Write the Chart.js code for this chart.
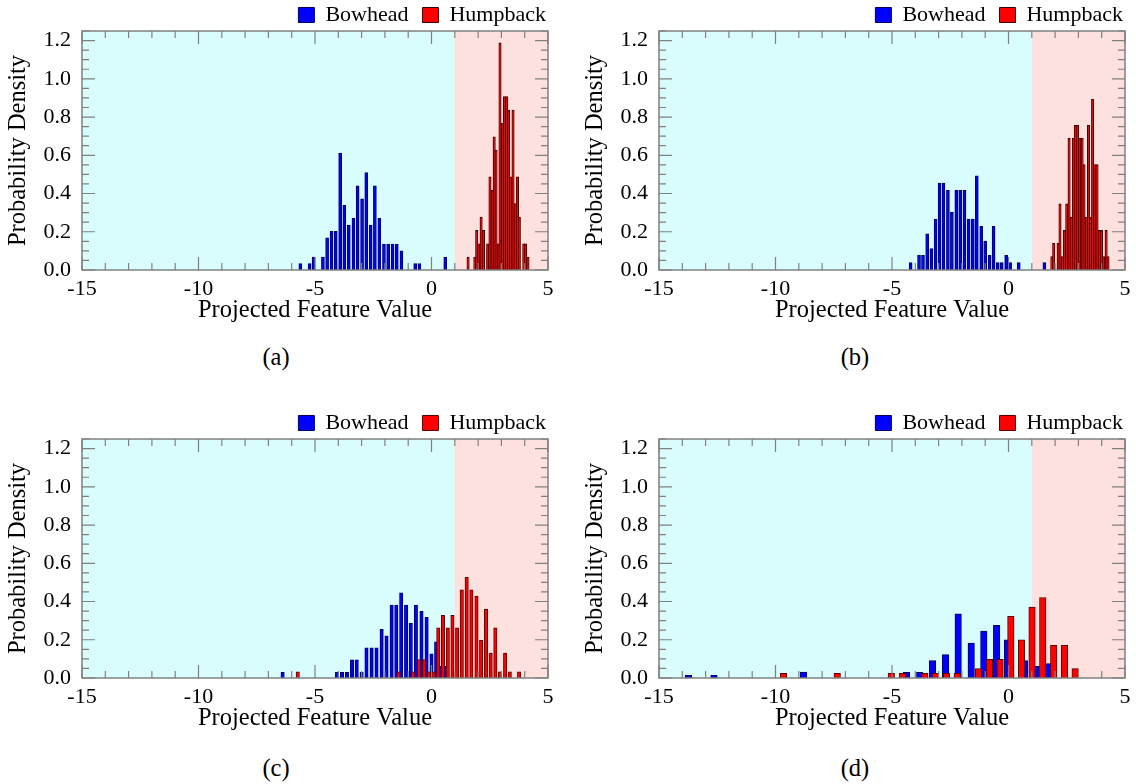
<!DOCTYPE html>
<html>
<head>
<meta charset="utf-8">
<title>Projected feature histograms</title>
<script src="https://cdn.jsdelivr.net/npm/chart.js@4.4.1/dist/chart.umd.min.js"></script>
<style>
  html, body { margin: 0; padding: 0; background: #fff; }
  body { position: relative; width: 1136px; height: 784px; overflow: hidden; font-family: 'Liberation Serif', 'DejaVu Serif', serif; }
  canvas { position: absolute; }
  .caption { position: absolute; width: 120px; text-align: center; font-size: 24.5px; line-height: 28px; color: #000; }
</style>
</head>
<body>
<canvas id="panel-a" width="560" height="341" style="left:0;top:-15px"></canvas>
<canvas id="panel-b" width="560" height="341" style="left:577px;top:-15px"></canvas>
<canvas id="panel-c" width="560" height="341" style="left:0;top:393px"></canvas>
<canvas id="panel-d" width="560" height="341" style="left:577px;top:393px"></canvas>
<div class="caption" style="left:216px;top:343px">(a)</div>
<div class="caption" style="left:795px;top:343px">(b)</div>
<div class="caption" style="left:216px;top:754px">(c)</div>
<div class="caption" style="left:795px;top:754px">(d)</div>

<script>
const xMin = -15
const xMax = 5
const yMax = 1.25
const boundary = 1 // where the cyan region ends and the pink one starts

// (a)
const aBowheadX = [-5.63, -5.23, -5.06, -4.66, -4.48, -4.29, -4.11, -3.92, -3.74, -3.55, -3.35, -3.17, -2.98, -2.80, -2.61, -2.43, -2.24, -2.04, -1.86, -1.67, -1.49, -1.29, -0.70, -0.52, 0.59]
const aBowheadY = [0.034, 0.034, 0.067, 0.067, 0.168, 0.202, 0.202, 0.612, 0.338, 0.235, 0.27, 0.44, 0.372, 0.51, 0.235, 0.44, 0.27, 0.135, 0.135, 0.135, 0.135, 0.10, 0.034, 0.034, 0.067]
const aHumpbackX = [1.57, 1.86, 1.94, 2.03, 2.13, 2.23, 2.41, 2.51, 2.60, 2.69, 2.77, 2.86, 2.94, 3.04, 3.13, 3.23, 3.31, 3.40, 3.50, 3.59, 3.69, 3.77, 3.96, 4.04, 4.14]
const aHumpbackY = [0.067, 0.067, 0.207, 0.137, 0.277, 0.207, 0.137, 0.487, 0.417, 0.697, 0.627, 0.137, 1.188, 0.767, 0.907, 0.907, 0.837, 0.487, 0.837, 0.347, 0.487, 0.277, 0.137, 0.137, 0.067]

// (b)
const bBowheadX = [-4.20, -3.84, -3.67, -3.49, -3.31, -3.13, -2.96, -2.79, -2.60, -2.43, -2.24, -2.07, -1.89, -1.71, -1.53, -1.36, -1.17, -1.00, -0.81, -0.64, -0.46, -0.29, -0.10, 0.07, 0.44, 1.54]
const bBowheadY = [0.039, 0.077, 0.077, 0.189, 0.112, 0.266, 0.455, 0.455, 0.417, 0.303, 0.417, 0.417, 0.417, 0.266, 0.266, 0.492, 0.228, 0.151, 0.077, 0.228, 0.039, 0.039, 0.077, 0.039, 0.039, 0.039]
const bHumpbackX = [1.86, 1.94, 2.13, 2.21, 2.31, 2.40, 2.50, 2.60, 2.69, 2.79, 2.87, 2.97, 3.06, 3.16, 3.24, 3.34, 3.43, 3.53, 3.61, 3.71, 3.80, 3.90, 3.99, 4.09, 4.19, 4.27]
const bHumpbackY = [0.07, 0.14, 0.14, 0.346, 0.07, 0.208, 0.346, 0.69, 0.277, 0.69, 0.757, 0.757, 0.69, 0.69, 0.551, 0.277, 0.757, 0.277, 0.893, 0.551, 0.551, 0.208, 0.208, 0.07, 0.208, 0.07]

// (c)
const cBowheadX = [-6.39, -4.06, -3.84, -3.63, -3.41, -3.21, -3.00, -2.79, -2.57, -2.36, -2.14, -1.93, -1.71, -1.51, -1.30, -1.09, -0.89, -0.67, -0.43, -0.21, 0.00, 0.20, 0.41, 0.61]
const cBowheadY = [0.03, 0.03, 0.03, 0.03, 0.095, 0.095, 0.03, 0.158, 0.158, 0.158, 0.254, 0.221, 0.382, 0.382, 0.446, 0.382, 0.286, 0.382, 0.349, 0.317, 0.126, 0.189, 0.061, 0.061]
const cHumpbackX = [-5.74, -1.41, -0.79, -0.53, -0.31, -0.11, 0.09, 0.29, 0.49, 0.70, 0.90, 1.10, 1.30, 1.51, 1.71, 1.93, 2.13, 2.34, 2.54, 2.74, 2.94, 3.16, 3.36, 3.76]
const cHumpbackY = [0.032, 0.032, 0.032, 0.096, 0.096, 0.032, 0.032, 0.263, 0.328, 0.263, 0.328, 0.263, 0.461, 0.526, 0.461, 0.428, 0.197, 0.361, 0.13, 0.263, 0.032, 0.13, 0.032, 0.032]

// (d)
const dBowheadX = [-13.73, -12.64, -8.80, -4.38, -3.81, -3.26, -2.70, -2.16, -1.60, -1.06, -0.51, -0.04, 0.69, 1.19, 1.70]
const dBowheadY = [0.014, 0.014, 0.031, 0.03, 0.03, 0.091, 0.122, 0.336, 0.182, 0.245, 0.276, 0.2, 0.091, 0.061, 0.075]
const dHumpbackX = [-9.66, -7.35, -5.03, -4.55, -3.59, -3.13, -2.66, -2.20, -1.29, -0.81, -0.36, 0.10, 0.56, 1.01, 1.47, 1.94, 2.40, 2.86]
const dHumpbackY = [0.024, 0.024, 0.024, 0.024, 0.024, 0.024, 0.024, 0.024, 0.049, 0.098, 0.098, 0.322, 0.2, 0.371, 0.421, 0.171, 0.171, 0.049]

const serif = "'Liberation Serif', 'Times New Roman', serif"

// cyan / pink decision regions behind the bars
const shading = {
  id: 'shading',
  beforeDatasetsDraw(chart) {
    const { ctx, chartArea: a, scales: { x } } = chart
    const xb = x.getPixelForValue(boundary)
    ctx.save()
    ctx.fillStyle = '#d9fdfd'
    ctx.fillRect(a.left, a.top, xb - a.left, a.bottom - a.top)
    ctx.fillStyle = '#fde1de'
    ctx.fillRect(xb, a.top, a.right - xb, a.bottom - a.top)
    ctx.restore()
  }
}

// box round the plot with inward ticks on all four sides
const frame = {
  id: 'frame',
  afterDatasetsDraw(chart) {
    const { ctx, chartArea: a, scales: { x, y } } = chart
    ctx.save()
    ctx.strokeStyle = '#808080'
    ctx.lineWidth = 1.5
    ctx.strokeRect(a.left, a.top, a.right - a.left, a.bottom - a.top)
    ctx.lineWidth = 1.2
    ctx.beginPath()
    for (let v = xMin; v <= xMax; v++) {
      const px = x.getPixelForValue(v)
      const len = v % 5 === 0 ? 13 : 7
      ctx.moveTo(px, a.bottom)
      ctx.lineTo(px, a.bottom - len)
      ctx.moveTo(px, a.top)
      ctx.lineTo(px, a.top + len)
    }
    for (let i = 0; i * 0.05 <= yMax + 1e-9; i++) {
      const py = y.getPixelForValue(i * 0.05)
      const len = i % 4 === 0 ? 13 : 7
      ctx.moveTo(a.left, py)
      ctx.lineTo(a.left + len, py)
      ctx.moveTo(a.right, py)
      ctx.lineTo(a.right - len, py)
    }
    ctx.stroke()
    ctx.restore()
  }
}

// the legend sits a bit lower, closer to the plot, than Chart.js puts it
const legendNudge = {
  id: 'legendNudge',
  afterLayout(chart) {
    chart.legend.top += 5
    chart.legend.bottom += 5
  }
}

function toPoints(xs, ys) {
  return xs.map((x, i) => ({ x: x, y: ys[i] }))
}

function makePanel(id, bowX, bowY, humpX, humpY, bowWidth, humpWidth, humpEdge) {
  return new Chart(document.getElementById(id), {
    type: 'bar',
    data: {
      datasets: [{
        label: 'Bowhead',
        data: toPoints(bowX, bowY),
        backgroundColor: '#0000ff',
        borderColor: '#00005e',
        borderWidth: 1,
        barThickness: bowWidth,
        grouped: false,
        order: 1
      },
      {
        label: 'Humpback',
        data: toPoints(humpX, humpY),
        backgroundColor: '#ff0000',
        borderColor: humpEdge,
        borderWidth: 1,
        barThickness: humpWidth,
        grouped: false,
        order: 0
      }]
    },
    options: {
      responsive: false,
      animation: false,
      layout: { padding: 0 },
      plugins: {
        legend: {
          position: 'top',
          align: 'end',
          labels: {
            font: { family: serif, size: 22 },
            color: '#000',
            boxWidth: 16,
            boxHeight: 15,
            padding: 14,
            sort: (p, q) => p.datasetIndex - q.datasetIndex
          }
        },
        tooltip: { enabled: false }
      },
      scales: {
        x: {
          type: 'linear',
          min: xMin,
          max: xMax,
          offset: false,
          grid: { display: false, drawTicks: false },
          border: { display: false },
          ticks: { stepSize: 5, padding: 8, color: '#000', maxRotation: 0, includeBounds: false,
            font: { family: serif, size: 22, lineHeight: 1 } },
          title: { display: true, text: 'Projected Feature Value', color: '#000',
            font: { family: serif, size: 24.5, lineHeight: 1 }, padding: { top: 0, bottom: 3 } },
          afterFit: (s) => { s.paddingRight = 12; s.height = 56 }
        },
        y: {
          min: 0,
          max: yMax,
          grid: { display: false, drawTicks: false },
          border: { display: false },
          ticks: { stepSize: 0.2, padding: 11, color: '#000', includeBounds: false,
            font: { family: serif, size: 22, lineHeight: 1 },
            callback: (v) => v.toFixed(1) },
          title: { display: true, text: 'Probability Density', color: '#000',
            font: { family: serif, size: 24.5, lineHeight: 1 }, padding: { top: 6, bottom: 0 } },
          afterFit: (s) => { s.width = 82 }
        }
      }
    },
    plugins: [shading, frame, legendNudge]
  })
}

makePanel('panel-a', aBowheadX, aBowheadY, aHumpbackX, aHumpbackY, 3, 2.4, '#3a0000')
makePanel('panel-b', bBowheadX, bBowheadY, bHumpbackX, bHumpbackY, 3, 2.4, '#3a0000')
makePanel('panel-c', cBowheadX, cBowheadY, cHumpbackX, cHumpbackY, 3.4, 3.4, '#5a0000')
makePanel('panel-d', dBowheadX, dBowheadY, dHumpbackX, dHumpbackY, 6.5, 6.5, '#5a0000')
</script>
</body>
</html>
